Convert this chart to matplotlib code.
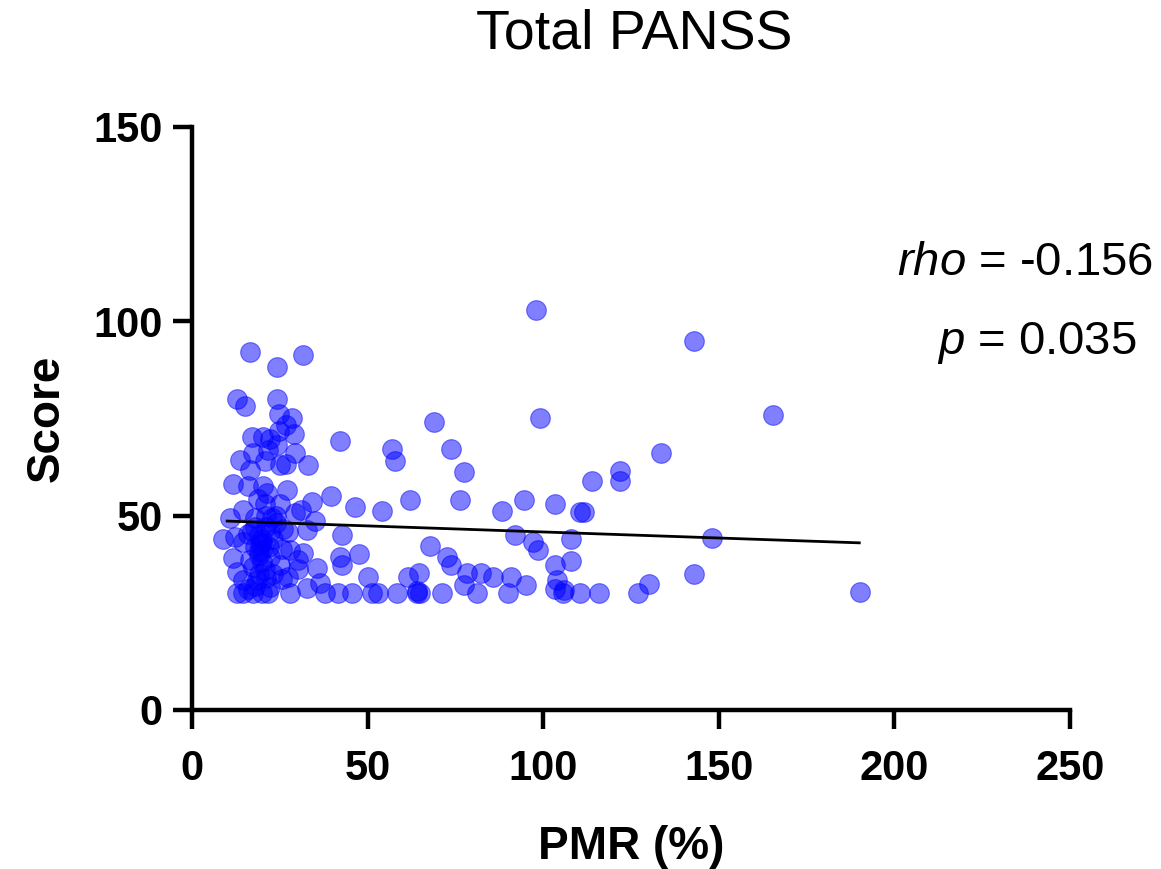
import matplotlib.pyplot as plt
import numpy as np

plt.rcParams['font.family'] = ['Liberation Sans', 'DejaVu Sans']
plt.rcParams['mathtext.fontset'] = 'custom'
plt.rcParams['mathtext.it'] = 'Liberation Sans:italic'
plt.rcParams['mathtext.rm'] = 'Liberation Sans'

# PMR (%) vs total PANSS score
pmr = [190.2, 148, 143, 143, 165.4, 133.5, 130, 127, 122, 122, 114, 111.6, 110.5, 116, 110.5,
       107.8, 107.8, 98, 99.2, 68.8, 57, 57.9, 73.7, 77.4, 42.1, 46.4, 54, 62.1, 76.3, 88.2,
       94.5, 103.5, 42.6, 92, 97.2, 98.6, 67.8, 47.6, 42.1, 42.6, 72.7, 73.7, 103.4, 50.2, 61.6,
       64.6, 78.2, 82.2, 85.8, 90.7, 77.4, 95.1, 104, 103.4, 105.6, 106, 45.5, 51.2, 52.9, 58.3,
       64.2, 64.2, 64.8, 71.1, 81.1, 90.1,
       16.5, 24.1, 31.7, 12.7, 15.1, 24.3, 24.9, 28.4, 26.8, 24.8, 29.1, 17, 20.3, 22.2, 24.1,
       17.5, 21.7, 29.3, 13.7, 20.8, 25.1, 26.8, 33.1, 16.5, 11.8, 16, 20.3, 27.1, 21.3, 18.9,
       25.1, 20.8, 39.5, 34.1, 31, 29.3, 14.6, 10.8, 22.7, 17.9, 35, 26, 8.9, 12.2, 16, 22.2,
       32.7, 27.4, 19.4, 14.6, 25.5, 27.9, 19.8, 31.7, 11.8, 16.5, 22.2, 30.3, 17.5, 25.1, 12.7,
       20.8, 30.3, 35.5, 14.6, 25.5, 27.4, 18.4, 36.4, 32.7, 22.2, 12.7, 14.6, 17.5, 19.8, 21.7,
       27.9, 37.9, 41.5,
       18, 19, 20, 21, 19, 20, 18, 22, 23, 17, 24, 21, 19, 23, 16, 18, 21, 24, 20, 19]
score = [30.3, 44.2, 95, 35, 76, 66, 32.5, 30, 61.4, 59, 59, 51, 51, 30, 30,
         38.2, 44.1, 103, 75.1, 74, 67.2, 64.1, 67.1, 61.1, 69.2, 52.2, 51.2, 54.1, 54.1, 51.2,
         54.1, 53.1, 45.1, 45.1, 43.3, 41.1, 42.2, 40.1, 39.4, 37.3, 39.4, 37.3, 37.3, 34.3, 34.3,
         35.3, 35.3, 35.3, 34.3, 34.3, 32.1, 32.1, 33.4, 31.1, 30.2, 30.8, 30.2, 30.2, 30.2, 30.2,
         30.2, 30.6, 30.2, 30.2, 30.2, 30.2,
         92.1, 88.2, 91.3, 80.1, 78.1, 80.1, 76.2, 75.2, 73.3, 71.8, 71.1, 70.3, 70.3, 69.8, 68.1,
         66, 66.8, 66.2, 64.3, 64.1, 63, 63.2, 63.1, 61.7, 58.1, 57.6, 57.6, 56.6, 55.7, 54.4,
         53.1, 53.1, 55.1, 53.5, 51.4, 50.7, 51.4, 49.3, 49.5, 49.3, 48.5, 46.6, 44.1, 44.5, 45.2, 45.8,
         46.3, 45.8, 42.8, 43.3, 41.5, 41.1, 41.1, 40.4, 39, 38.6, 39.4, 38.6, 36.8, 37.3, 35.6,
         36, 36.2, 36.4, 33.4, 33.8, 34.3, 33.4, 32.6, 31.3, 31.7, 30, 30, 30, 30, 30,
         30, 30, 30,
         47, 45, 43, 47, 40, 38, 42, 42, 44, 46, 48, 34, 35, 35, 31, 32, 50, 50, 44, 41]

fit_x = [10, 190]
fit_y = [48.6, 43.0]

fig = plt.figure(figsize=(11.61, 8.69), dpi=100)
ax = fig.add_axes([0.1654, 0.1830, 0.7562, 0.6709])

ax.scatter(pmr, score, s=200, color='blue', alpha=0.5, edgecolors='blue', linewidths=0.8, zorder=2)
ax.plot(fit_x, fit_y, color='black', lw=2, zorder=3)

ax.set_xlim(0, 250)
ax.set_ylim(0, 150)
ax.set_xticks([0, 50, 100, 150, 200, 250])
ax.set_yticks([0, 50, 100, 150])
for s in ['top', 'right']:
    ax.spines[s].set_visible(False)
for s in ['left', 'bottom']:
    ax.spines[s].set_linewidth(3.2)
ax.tick_params(width=3.2, length=14, pad=7, labelsize=30)
ax.tick_params(axis='x', pad=14)
for lab in ax.get_xticklabels() + ax.get_yticklabels():
    lab.set_fontweight('bold')

ax.set_xlabel('PMR (%)', fontsize=33, fontweight='bold', labelpad=26)
ax.set_ylabel('Score', fontsize=33, fontweight='bold', labelpad=18)
fig.text(0.546, 0.96, 'Total PANSS', fontsize=40, ha='center', va='center')

ax.text(273.6, 114.9, r'$\mathit{rho}$ = -0.156', fontsize=34, ha='right', va='center', clip_on=False)
ax.text(269, 94.3, r'$\mathit{p}$ = 0.035', fontsize=34, ha='right', va='center', clip_on=False)

fig.savefig('out.png', dpi=100)
